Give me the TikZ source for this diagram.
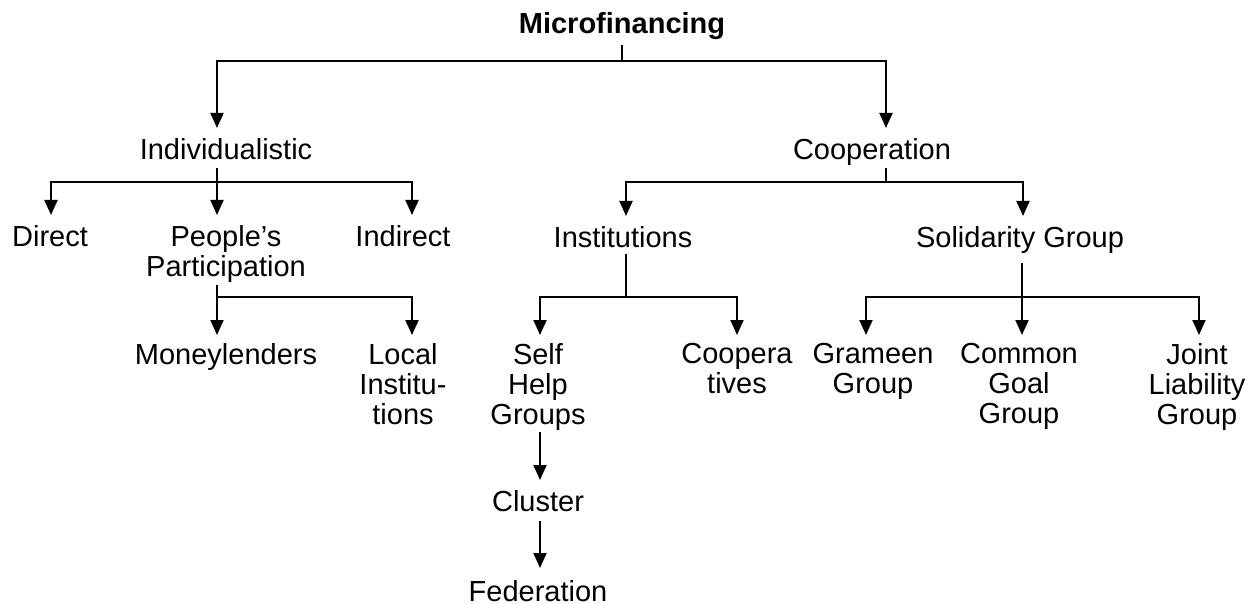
\documentclass[tikz,border=0pt]{standalone}
\usepackage{fontspec}
\setmainfont{Liberation Sans}
\usetikzlibrary{arrows.meta}
\begin{document}
\begin{tikzpicture}[x=1pt,y=-1pt,
  lbl/.style={font=\fontsize{29}{30}\selectfont, inner sep=0pt, align=center, anchor=north},
  conn/.style={line width=2pt},
  arr/.style={conn, -{Triangle[length=15pt,width=13pt]}, shorten >=10pt}]
\useasboundingbox (0,0) rectangle (1258,604);
% nodes
\node[lbl, font=\bfseries\fontsize{29}{30}\selectfont] (root) at (622,12) {Microfinancing};
\node[lbl] (indiv) at (226,138) {Individualistic};
\node[lbl] (coop) at (872,138) {Cooperation};
\node[lbl] (direct) at (50,225) {Direct};
\node[lbl] (people) at (226,225) {People’s\\Participation};
\node[lbl] (indirect) at (403,225) {Indirect};
\node[lbl] (inst) at (623,226) {Institutions};
\node[lbl] (solid) at (1020,226) {Solidarity Group};
\node[lbl] (money) at (226,343) {Moneylenders};
\node[lbl] (local) at (403,343) {Local\\Institu-\\tions};
\node[lbl] (shg) at (538,343) {Self\\Help\\Groups};
\node[lbl] (coopera) at (737,343) {Coopera\\tives};
\node[lbl] (grameen) at (873,343) {Grameen\\Group};
\node[lbl] (common) at (1019,343) {Common\\Goal\\Group};
\node[lbl] (joint) at (1197,343) {Joint\\Liability\\Group};
\node[lbl] (cluster) at (538,490) {Cluster};
\node[lbl] (fed) at (538,580) {Federation};
% bus coordinates
\coordinate (b0) at (622,61);
\coordinate (b1) at (217,182);
\coordinate (b2) at (217,297);
\coordinate (b3) at (886,182);
\coordinate (b4) at (626,297);
\coordinate (b5) at (1022,297);
% root
\draw[conn] ([yshift=-5pt]root.south) -- (b0);
\draw[arr] (b0) -| ([xshift=-9pt]indiv.north);
\draw[arr] (b0) -| ([xshift=14pt]coop.north);
% individualistic
\draw[conn] ([xshift=-9pt,yshift=-8pt]indiv.south) -- (b1);
\draw[arr] (b1) -| ([xshift=1pt]direct.north);
\draw[arr] (b1) -| ([xshift=-9pt]people.north);
\draw[arr] (b1) -| ([xshift=9pt]indirect.north);
% people's participation
\draw[conn] ([xshift=-9pt,yshift=-3pt]people.south) -- (b2);
\draw[arr, shorten >=8pt] (b2) -| ([xshift=-9pt]money.north);
\draw[arr, shorten >=8pt] (b2) -| ([xshift=9pt]local.north);
% cooperation
\draw[conn] ([xshift=14pt,yshift=-3pt]coop.south) -- (b3);
\draw[arr] (b3) -| ([xshift=3pt]inst.north);
\draw[arr] (b3) -| ([xshift=3pt]solid.north);
% institutions
\draw[conn] ([xshift=3pt,yshift=-6pt]inst.south) -- (b4);
\draw[arr, shorten >=8pt] (b4) -| ([xshift=2pt]shg.north);
\draw[arr, shorten >=8pt] (b4) -| (coopera.north);
% solidarity group
\draw[conn] ([xshift=2pt,yshift=-10pt]solid.south) -- (b5);
\draw[arr, shorten >=8pt] (b5) -| ([xshift=-7pt]grameen.north);
\draw[arr, shorten >=8pt] (b5) -| ([xshift=3pt]common.north);
\draw[arr, shorten >=8pt] (b5) -| ([xshift=2pt]joint.north);
% chain
\draw[arr] ([xshift=2pt,yshift=-2pt]shg.south) -- ([xshift=2pt]cluster.north);
\draw[arr, shorten >=12pt] ([xshift=2pt,yshift=-9pt]cluster.south) -- ([xshift=2pt]fed.north);
\end{tikzpicture}
\end{document}
